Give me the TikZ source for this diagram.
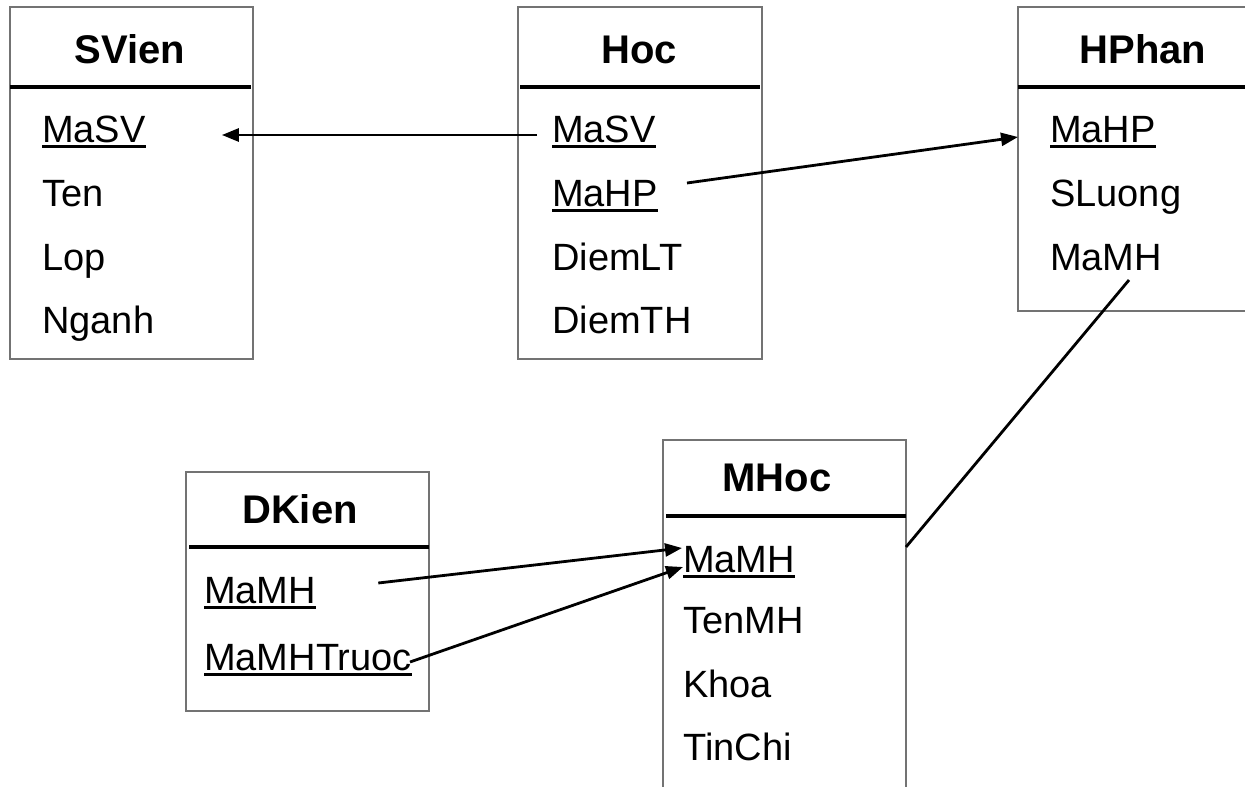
\documentclass[tikz,border=0pt]{standalone}
\usepackage{fontspec}
\setmainfont{Liberation Sans}
\usetikzlibrary{arrows.meta}

\begin{document}
\begin{tikzpicture}[x=1pt,y=-1pt,
  tbox/.style={draw=black!55,line width=1.5pt},
  hline/.style={line width=4pt},
  ttl/.style={inner sep=0pt,anchor=base,font=\fontsize{40}{48}\selectfont\bfseries},
  fld/.style={inner sep=0pt,anchor=base west,font=\fontsize{38}{46}\selectfont},
  ul/.style={line width=3.2pt},
  link/.style={line width=2.8pt},
  ref/.style={link,-{Triangle[length=17pt,width=13pt]}}]
\useasboundingbox (0,0) rectangle (1245,787);
\clip (0,0) rectangle (1245,787);
% SVien
\draw[tbox] (10,7) rectangle (253,359);
\draw[hline] (10,87) -- (251,87);
\node[ttl] (svien) at (130,63) {SVien};
\node[fld] (svien-masv) at (42,142) {MaSV};
\node[fld] (svien-ten) at (42,206) {Ten};
\node[fld] (svien-lop) at (42,270) {Lop};
\node[fld] (svien-nganh) at (42,333) {Nganh};
% Hoc
\draw[tbox] (518,7) rectangle (762,359);
\draw[hline] (520,87) -- (760,87);
\node[ttl] (hoc) at (639,63) {Hoc};
\node[fld] (hoc-masv) at (552,142) {MaSV};
\node[fld] (hoc-mahp) at (552,206) {MaHP};
\node[fld] (hoc-diemlt) at (552,270) {DiemLT};
\node[fld] (hoc-diemth) at (552,333) {DiemTH};
% HPhan
\draw[tbox] (1260,7) -- (1018,7) -- (1018,311) -- (1260,311);
\draw[hline] (1018,87) -- (1245,87);
\node[ttl] (hphan) at (1143,63) {HPhan};
\node[fld] (hphan-mahp) at (1050,142) {MaHP};
\node[fld] (hphan-sluong) at (1050,206) {SLuong};
\node[fld] (hphan-mamh) at (1050,270) {MaMH};
% DKien
\draw[tbox] (186,472) rectangle (429,711);
\draw[hline] (189,547) -- (429,547);
\node[ttl] (dkien) at (300,523) {DKien};
\node[fld] (dkien-mamh) at (204,603) {MaMH};
\node[fld] (dkien-mamhtruoc) at (204,670) {MaMHTruoc};
% MHoc
\draw[tbox] (663,800) -- (663,440) -- (906,440) -- (906,800);
\draw[hline] (666,516) -- (906,516);
\node[ttl] (mhoc) at (777,491) {MHoc};
\node[fld] (mhoc-mamh) at (683,572) {MaMH};
\node[fld] (mhoc-tenmh) at (683,633) {TenMH};
\node[fld] (mhoc-khoa) at (683,697) {Khoa};
\node[fld] (mhoc-tinchi) at (683,760) {TinChi};
% keys
\foreach \k in {svien-masv,hoc-masv,hoc-mahp,hphan-mahp,dkien-mamh,dkien-mamhtruoc,mhoc-mamh}
  \draw[ul] ([yshift=-4.5pt]\k.base west) -- ([yshift=-4.5pt]\k.base east);
% links
\draw[ref] ([shift={(-15pt,7pt)}]hoc-masv.base west) -- ([shift={(76pt,7pt)}]svien-masv.base east);
\draw[ref] ([shift={(29pt,23pt)}]hoc-mahp.base east) -- ([shift={(-32pt,5pt)}]hphan-mahp.base west);
\draw[link] ([shift={(79pt,-10pt)}]hphan-mamh.base west) -- ([shift={(223pt,25pt)}]mhoc-mamh.base west);
\draw[ref] ([shift={(62pt,20pt)}]dkien-mamh.base east) -- ([shift={(-1pt,24pt)}]mhoc-mamh.base west);
\draw[ref] ([shift={(-2pt,8pt)}]dkien-mamhtruoc.base east) -- ([shift={(0pt,5pt)}]mhoc-mamh.base west);
\end{tikzpicture}
\end{document}
